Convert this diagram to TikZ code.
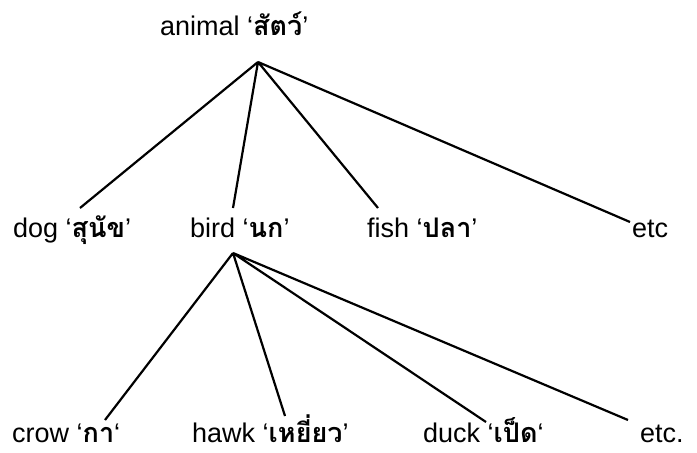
\documentclass[tikz,border=0pt]{standalone}
\usepackage{fontspec}
\setmainfont{Liberation Sans}
\newfontfamily\thaifont[Script=Thai]{Loma}
\newcommand{\thw}[1]{‘{\thaifont\bfseries #1}’}
\newcommand{\thwl}[1]{‘{\thaifont\bfseries #1}‘}
\begin{document}
\begin{tikzpicture}[x=1pt,y=-1pt,
    lbl/.style={anchor=base west,inner sep=0pt,font=\fontsize{27}{30}\selectfont},
    brn/.style={line width=2.2pt}]
  \useasboundingbox (0,0) rectangle (697,453);
  % the top word
  \node[lbl] (animal) at (160,35) {animal \thw{สัตว์}};
  \coordinate (root) at (258,62);
  % the middle row
  \node[lbl] (dog)  at (13,237)  {dog \thw{สุนัข}};
  \node[lbl] (bird) at (190,237) {bird \thw{นก}};
  \node[lbl] (fish) at (367,237) {fish \thw{ปลา}};
  \node[lbl] (etcA) at (632,237) {etc};
  \coordinate (dogend)  at (80,208);
  \coordinate (birdend) at (233,208);
  \coordinate (fishend) at (378,208);
  \coordinate (etcAend) at (630,222);
  \draw[brn] (root)--(dogend) (root)--(birdend) (root)--(fishend) (root)--(etcAend);
  % the bottom row
  \coordinate (birdtop) at (233,253);
  \node[lbl] (crow) at (12,442)  {crow \thwl{กา}};
  \node[lbl] (hawk) at (192,442) {hawk \thw{เหยี่ยว}};
  \node[lbl] (duck) at (423,442) {duck \thwl{เป็ด}};
  \node[lbl] (etcB) at (640,442) {etc.};
  \coordinate (crowend) at (105,420);
  \coordinate (hawkend) at (285,416);
  \coordinate (duckend) at (486,422);
  \coordinate (etcBend) at (628,420);
  \draw[brn] (birdtop)--(crowend) (birdtop)--(hawkend) (birdtop)--(duckend) (birdtop)--(etcBend);
\end{tikzpicture}
\end{document}
